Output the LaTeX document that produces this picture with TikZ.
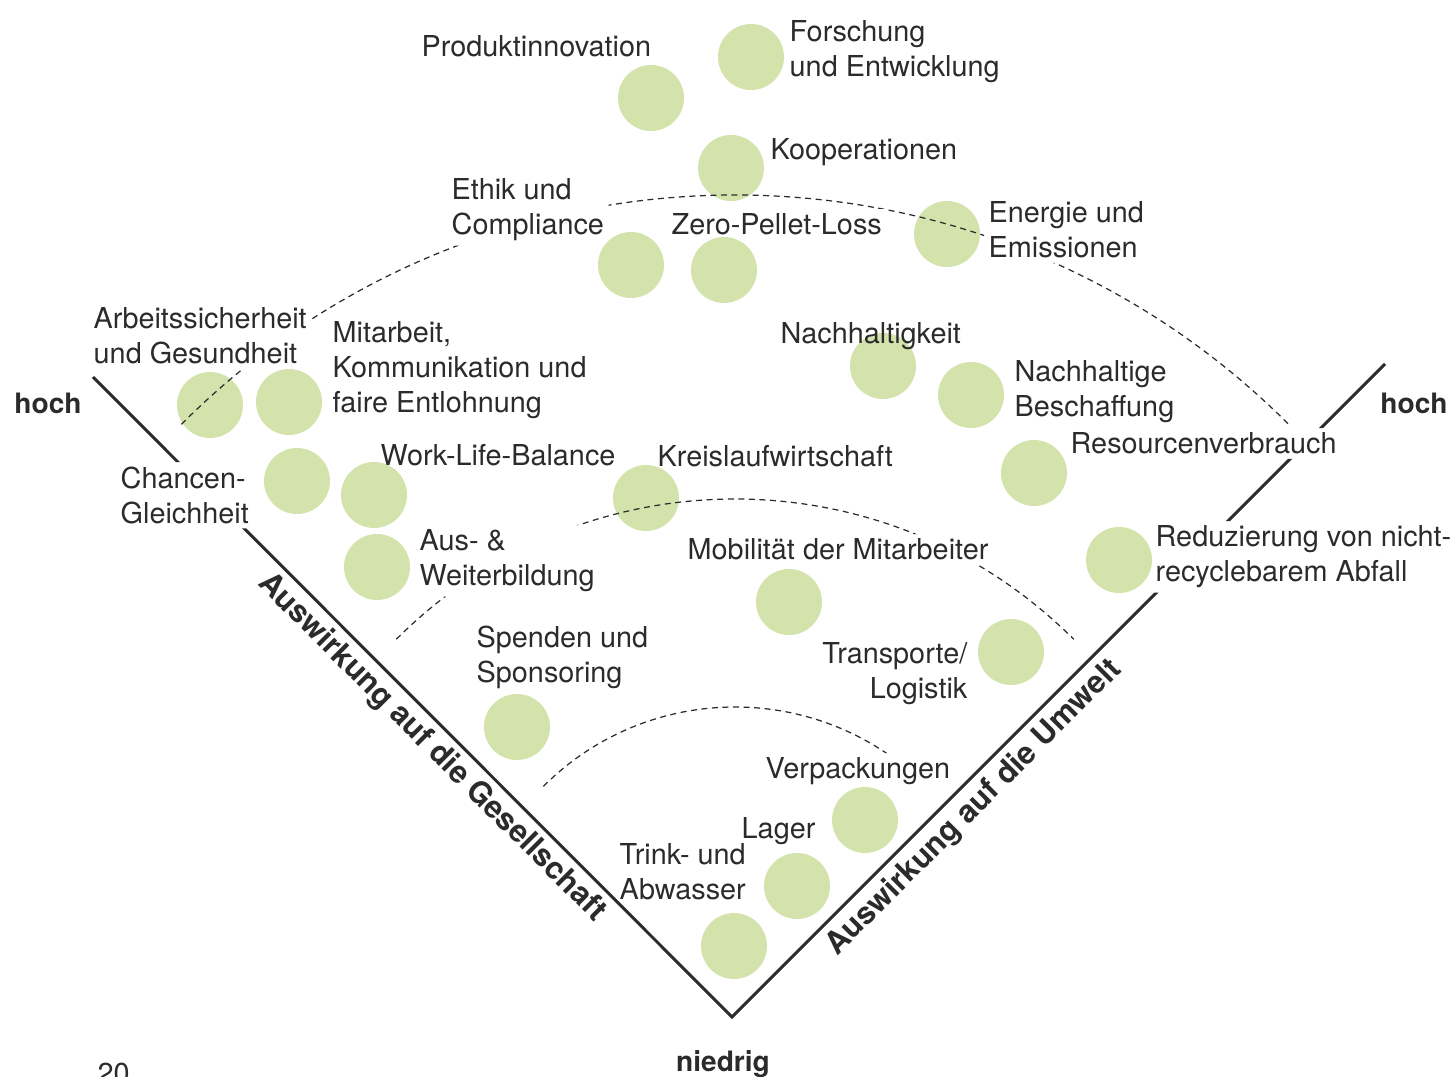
\documentclass[tikz,border=0pt]{standalone}
\usepackage{fontspec}
\setmainfont{TeX Gyre Heros}
\usetikzlibrary{positioning}
\definecolor{dotgreen}{HTML}{D4E3AC}
\definecolor{ink}{HTML}{2B2B2B}

\begin{document}
\begin{tikzpicture}[
        dot/.style={circle, fill=dotgreen, minimum size=0.66cm, inner sep=0pt},
        topic/.style={anchor=north west, align=left, inner sep=0pt, text=ink,
                      font=\fontsize{8.2}{9.95}\selectfont},
        level/.style={anchor=base, inner sep=0pt, text=ink,
                      font=\fontsize{8}{10}\selectfont\bfseries},
        axislabel/.style={inner sep=0pt, text=ink,
                      font=\fontsize{8.8}{10}\selectfont\bfseries},
        axisline/.style={draw=ink, line width=0.85pt},
        ring/.style={draw=ink, line width=0.35pt, dash pattern=on 1.7pt off 1.3pt}
    ]
        \useasboundingbox (0,0) rectangle (14.55,10.76);
        \clip (0,0) rectangle (14.55,10.76);

        \node[dot] (Produkt) at (6.51,9.78) {};
        \node[dot] (Forschung) at (7.51,10.19) {};
        \node[dot] (Kooperation) at (7.31,9.08) {};
        \node[dot] (Ethik) at (6.31,8.11) {};
        \node[dot] (ZeroPellet) at (7.24,8.06) {};
        \node[dot] (Energie) at (9.47,8.42) {};
        \node[dot] (Arbeitsschutz) at (2.10,6.71) {};
        \node[dot] (Mitarbeit) at (2.89,6.74) {};
        \node[dot] (Chancen) at (2.97,5.95) {};
        \node[dot] (WorkLife) at (3.74,5.81) {};
        \node[dot] (Weiterbildung) at (3.77,5.09) {};
        \node[dot] (Kreislauf) at (6.46,5.78) {};
        \node[dot] (Nachhaltigkeit) at (8.83,7.10) {};
        \node[dot] (Beschaffung) at (9.71,6.81) {};
        \node[dot] (Ressourcen) at (10.34,6.03) {};
        \node[dot] (Abfall) at (11.19,5.16) {};
        \node[dot] (Mobilitaet) at (7.89,4.74) {};
        \node[dot] (Transporte) at (10.11,4.24) {};
        \node[dot] (Spenden) at (5.17,3.49) {};
        \node[dot] (Verpackungen) at (8.65,2.56) {};
        \node[dot] (Lager) at (7.97,1.90) {};
        \node[dot] (Abwasser) at (7.34,1.30) {};

        \node[topic] (ProduktText) at (4.21,10.41) {Produktinnovation};
        \node[topic] (ForschungText) at (7.89,10.56) {Forschung\\und Entwicklung};
        \node[topic] (KooperationText) at (7.70,9.38) {Kooperationen};
        \node[topic] (EthikText) at (4.51,8.98) {Ethik und\\Compliance};
        \node[topic] (ZeroPelletText) at (6.71,8.63) {Zero-Pellet-Loss};
        \node[topic] (EnergieText) at (9.88,8.75) {Energie und\\Emissionen};
        \node[topic] (ArbeitsschutzText) at (0.93,7.69) {Arbeitssicherheit\\und Gesundheit};
        \node[topic] (MitarbeitText) at (3.32,7.55) {Mitarbeit,\\Kommunikation und\\faire Entlohnung};
        \node[topic] (NachhaltigkeitText) at (7.80,7.54) {Nachhaltigkeit};
        \node[topic] (BeschaffungText) at (10.14,7.16) {Nachhaltige\\Beschaffung};
        \node[topic] (RessourcenText) at (10.70,6.44) {Resourcenverbrauch};
        \node[topic] (ChancenText) at (1.20,6.10) {Chancen-\\Gleichheit};
        \node[topic] (WorkLifeText) at (3.80,6.32) {Work-Life-Balance};
        \node[topic] (KreislaufText) at (6.57,6.31) {Kreislaufwirtschaft};
        \node[topic] (WeiterbildungText) at (4.19,5.47) {Aus- \&\\Weiterbildung};
        \node[topic] (MobilitaetText) at (6.87,5.38) {Mobilität der Mitarbeiter};
        \node[topic] (AbfallText) at (11.55,5.51) {Reduzierung von nicht-\\recyclebarem Abfall};
        \node[topic] (SpendenText) at (4.76,4.51) {Spenden und\\Sponsoring};
        \node[topic, anchor=north east, align=right] (TransporteText) at (9.68,4.34) {Transporte/\\Logistik};
        \node[topic] (VerpackungenText) at (7.65,3.19) {Verpackungen};
        \node[topic] (LagerText) at (7.41,2.59) {Lager};
        \node[topic] (AbwasserText) at (6.19,2.33) {Trink- und\\Abwasser};

        \node[level] (HochLinks) at (0.48,6.62) {hoch};
        \node[level] (HochRechts) at (14.14,6.63) {hoch};
        \node[level] (Niedrig) at (7.23,0.05) {niedrig};
        \node[axislabel, rotate=-45] (Gesellschaft) at (4.32,3.28) {Auswirkung auf die Gesellschaft};
        \node[axislabel, rotate=45] (Umwelt) at (9.74,2.68) {Auswirkung auf die Umwelt};
        \node[topic] (Seite) at (0.97,0.14) {20};

        \coordinate (Spitze) at (7.32,0.59);
        \coordinate (LinksOben) at (0.93,6.99);
        \coordinate (RechtsOben) at (13.85,7.12);
        \coordinate (Mitte) at (7.35,0.98);

        \begin{scope}
            \clip (0,0) -- (14.55,0) -- (14.55,10.76) -- (0,10.76) -- cycle
                \foreach \t in {ForschungText, EthikText, ZeroPelletText, EnergieText,
                                ArbeitsschutzText, MitarbeitText, RessourcenText, ChancenText,
                                WeiterbildungText, MobilitaetText, AbfallText, VerpackungenText} {
                    ([shift={(-0.04,-0.04)}]\t.south west) -- ([shift={(-0.04,0.04)}]\t.north west)
                    -- ([shift={(0.04,0.04)}]\t.north east) -- ([shift={(0.04,-0.04)}]\t.south east) -- cycle
                };
            \draw[ring] (Mitte) ++(135:7.83) arc (135:45:7.83);
            \draw[ring] (Mitte) ++(135:4.79) arc (135:45:4.79);
            \draw[ring] (Mitte) ++(135:2.71) arc (135:45:2.71);
            \draw[axisline] (LinksOben) -- (Spitze) -- (RechtsOben);
        \end{scope}
    \end{tikzpicture}
\end{document}
